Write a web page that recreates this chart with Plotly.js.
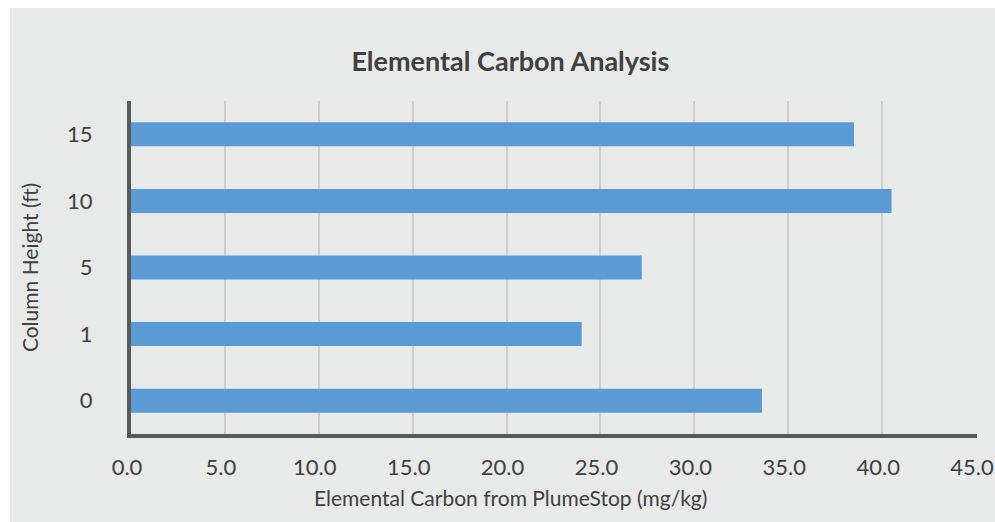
<!DOCTYPE html>
<html>
<head>
<meta charset="utf-8">
<script src="https://cdn.plot.ly/plotly-3.0.1.min.js"></script>
<style>
  html, body { margin: 0; padding: 0; background: #ffffff; }
  #chart { position: absolute; left: 10px; top: 8px; width: 985px; height: 514px; }
</style>
</head>
<body>
<div id="chart"></div>
<script>
// Data
const categories = ['0', '1', '5', '10', '15'];
const carbonValues = [33.6, 24.0, 27.2, 40.5, 38.5];
const xTickVals = [0, 5, 10, 15, 20, 25, 30, 35, 40, 45];
const xTickText = ['0.0', '5.0', '10.0', '15.0', '20.0', '25.0', '30.0', '35.0', '40.0', '45.0'];

const chartTitle = 'Elemental Carbon Analysis';
const xTitle = 'Elemental Carbon from PlumeStop (mg/kg)';
const yTitle = 'Column Height (ft)';

const bg = '#e8e9e9';
const textColor = '#404040';
const fontFamily = 'Lato, "Open Sans", sans-serif';

const trace = {
  type: 'bar',
  orientation: 'h',
  x: carbonValues,
  y: categories,
  marker: { color: '#5b9bd5', line: { width: 0 } },
  hoverinfo: 'x+y'
};

const layout = {
  width: 985,
  height: 514,
  paper_bgcolor: bg,
  plot_bgcolor: bg,
  margin: { l: 121, r: 18, t: 93, b: 88 },
  showlegend: false,
  bargap: 0.64,
  font: { family: fontFamily, color: textColor },
  title: {
    text: '<b>' + chartTitle + '</b>',
    font: { family: fontFamily, size: 27, color: textColor },
    x: 0.508,
    xanchor: 'center',
    y: 0.895,
    yanchor: 'middle'
  },
  xaxis: {
    range: [0, 45.05],
    tickvals: xTickVals,
    ticktext: xTickText,
    showgrid: true,
    gridcolor: '#cfcfcf',
    gridwidth: 2,
    zeroline: false,
    showline: true,
    linecolor: '#5a5a5a',
    linewidth: 4,
    ticks: '',
    ticklabelstandoff: 11,
    ticklabelshift: -4,
    tickfont: { family: fontFamily, size: 22, color: textColor },
    fixedrange: true
  },
  yaxis: {
    type: 'category',
    categoryorder: 'array',
    categoryarray: categories,
    showgrid: false,
    zeroline: false,
    showline: true,
    linecolor: '#5a5a5a',
    linewidth: 4,
    ticks: '',
    ticklabelstandoff: 30,
    tickfont: { family: fontFamily, size: 22, color: textColor },
    title: {
      text: yTitle,
      font: { family: fontFamily, size: 21, color: textColor },
      standoff: 24
    },
    fixedrange: true
  },
  annotations: [
    {
      text: xTitle,
      xref: 'paper', yref: 'paper',
      x: 0.449, y: -0.192,
      xanchor: 'center', yanchor: 'middle',
      showarrow: false,
      font: { family: fontFamily, size: 21, color: textColor }
    }
  ]
};

Plotly.newPlot('chart', [trace], layout, { displayModeBar: false, staticPlot: true });
</script>
</body>
</html>
